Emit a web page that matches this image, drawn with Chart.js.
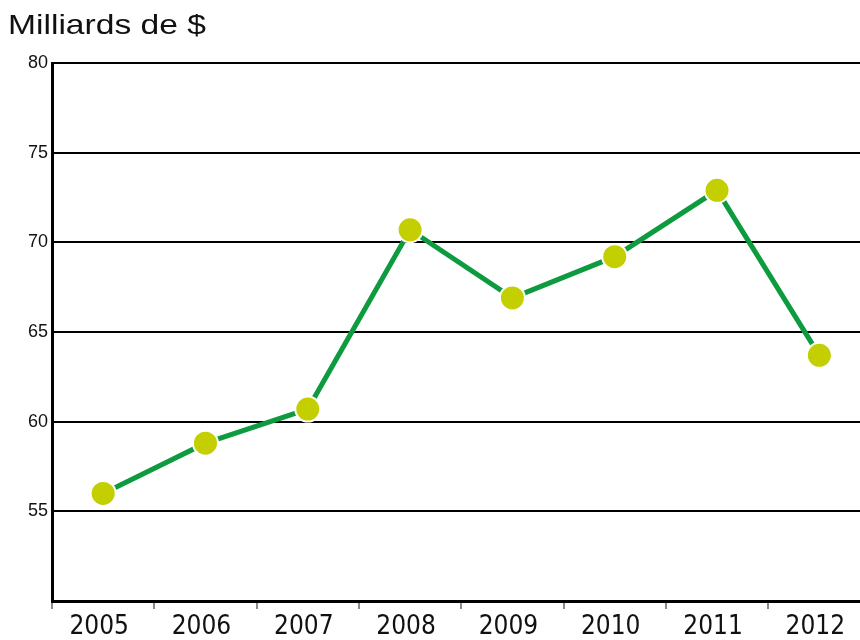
<!DOCTYPE html>
<html>
<head>
<meta charset="utf-8">
<script src="https://cdn.jsdelivr.net/npm/chart.js@4.4.1/dist/chart.umd.min.js"></script>
<style>
  html, body { margin: 0; padding: 0; background: #fff; overflow: hidden; }
  /* le graphique d'origine est coupé à droite : canvas un peu plus large que la fenêtre */
  #wrap { position: absolute; left: 0; top: 0; width: 885px; height: 640px; }
  #myChart { width: 885px; height: 640px; }
</style>
</head>
<body>
<div id="wrap"><canvas id="myChart" width="885" height="640"></canvas></div>
<script>
// Données
const years = ['2005', '2006', '2007', '2008', '2009', '2010', '2011', '2012'];
const milliards = [56.0, 58.8, 60.7, 70.7, 66.9, 69.2, 72.9, 63.7];
const yTicks = [55, 60, 65, 70, 75, 80];
const unitLabel = 'Milliards de $';

// titre en haut à gauche (un peu étiré comme sur l'original)
const titlePlugin = {
    id: 'unitTitle',
    afterDraw(chart) {
        const ctx = chart.ctx;
        ctx.save();
        ctx.font = '28px "Liberation Sans", Arial, sans-serif';
        ctx.fillStyle = '#111';
        ctx.textBaseline = 'alphabetic';
        ctx.translate(8, 34);
        ctx.scale(1.2, 1);
        ctx.fillText(unitLabel, 0, 0);
        ctx.restore();
    }
};

const ctx = document.getElementById('myChart').getContext('2d');
const myChart = new Chart(ctx, {
    type: 'line',
    data: {
        labels: years,
        datasets: [{
            data: milliards,
            borderColor: '#0e9b40',
            borderWidth: 5,
            pointBackgroundColor: '#c3cf00',
            pointBorderColor: '#ffffff',
            pointBorderWidth: 2,
            pointRadius: 12.5,
            tension: 0,
            clip: false
        }]
    },
    options: {
        responsive: false,
        animation: false,
        devicePixelRatio: 1,
        layout: { padding: { left: 8, top: 63, right: 0, bottom: 0 } },
        plugins: {
            legend: { display: false },
            tooltip: { enabled: false }
        },
        scales: {
            x: {
                offset: true,
                grid: {
                    offset: true,
                    drawOnChartArea: false,
                    tickLength: 8,
                    color: '#8a8a8a',
                    lineWidth: 2
                },
                border: { color: '#000', width: 3 },
                ticks: {
                    padding: 3,
                    labelOffset: -4,
                    color: '#111',
                    font: { family: '"DejaVu Sans Condensed", sans-serif', size: 26 }
                },
                afterFit(scale) { scale.height = 39; }
            },
            y: {
                min: 50,
                max: 80,
                afterBuildTicks(scale) {
                    scale.ticks = [50].concat(yTicks).map(v => ({ value: v }));
                },
                grid: {
                    color: '#000',
                    lineWidth: 2,
                    drawTicks: false
                },
                border: { color: '#000', width: 3 },
                ticks: {
                    padding: 4,
                    color: '#111',
                    font: { family: '"Liberation Sans", Arial, sans-serif', size: 18 },
                    callback: v => (v === 50 ? '' : v)
                },
                afterFit(scale) { scale.width = 44; }
            }
        }
    },
    plugins: [titlePlugin]
});
</script>
</body>
</html>
